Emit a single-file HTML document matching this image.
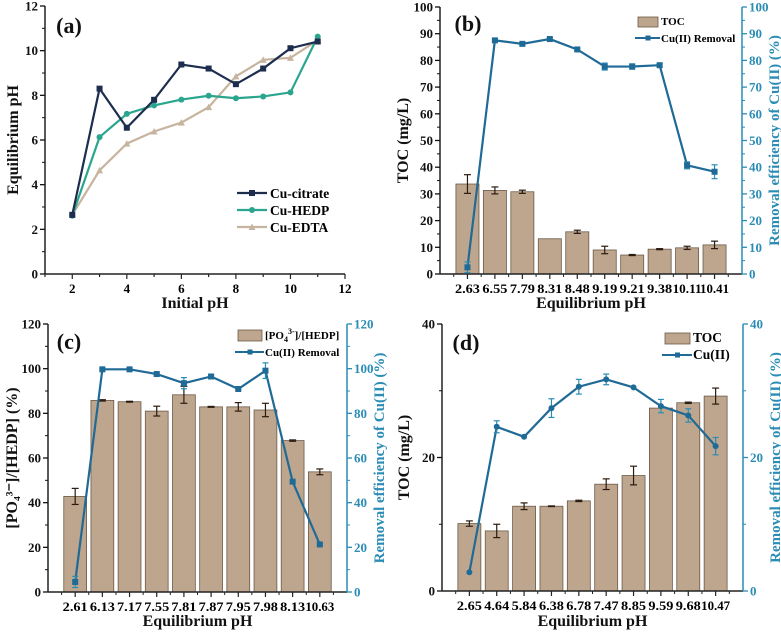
<!DOCTYPE html>
<html><head><meta charset="utf-8"><style>
body{margin:0;background:#fff}
svg text{font-family:"Liberation Serif",serif;font-weight:bold}
</style></head><body>
<svg id="c" width="781" height="634" xmlns="http://www.w3.org/2000/svg"></svg>
<script>
const aX=[2,3,4,5,6,7,8,9,10,11];
const aCitrate=[2.65,8.3,6.55,7.8,9.38,9.2,8.5,9.2,10.11,10.41];
const aHEDP=[2.61,6.13,7.17,7.55,7.81,7.98,7.87,7.95,8.13,10.63];
const aEDTA=[2.65,4.64,5.84,6.38,6.78,7.47,8.85,9.59,9.68,10.47];
const aXTicks=[2,4,6,8,10,12];
const aYTicks=[0,2,4,6,8,10,12];

const bCats=["2.63","6.55","7.79","8.31","8.48","9.19","9.21","9.38","10.11","10.41"];
const bTOC=[33.7,31.3,30.8,13.2,15.8,9.0,7.1,9.3,9.8,10.9];
const bTOCErr=[3.5,1.3,0.6,0,0.6,1.4,0.2,0.2,0.6,1.4];
const bRem=[2.5,87.5,86.2,88.0,84.1,77.7,77.7,78.2,40.7,38.3];
const bRemErr=[2,0.5,0.5,0.5,0.5,1.3,1,0.5,1.3,2.6];
const bTicks=[0,10,20,30,40,50,60,70,80,90,100];

const cCats=["2.61","6.13","7.17","7.55","7.81","7.87","7.95","7.98","8.13","10.63"];
const cBar=[42.8,85.8,85.2,81.0,88.3,82.9,82.9,81.5,67.8,53.8];
const cBarErr=[3.6,0.3,0.2,2.2,3.8,0.2,1.9,3.0,0.3,1.3];
const cRem=[4.5,99.7,99.7,97.6,93.5,96.5,90.9,99.1,49.4,21.3];
const cRemErr=[2.5,0.5,0.5,0.5,2.5,0.5,0.5,3.5,0.5,0.5];
const cTicks=[0,20,40,60,80,100,120];

const dCats=["2.65","4.64","5.84","6.38","6.78","7.47","8.85","9.59","9.68","10.47"];
const dBar=[10.1,9.0,12.7,12.7,13.5,16.0,17.3,27.4,28.2,29.2];
const dBarErr=[0.4,1.0,0.5,0.05,0.1,0.8,1.4,0,0.1,1.2];
const dRem=[2.8,24.6,23.1,27.4,30.6,31.7,30.5,27.7,26.3,21.7];
const dRemErr=[0,0.9,0,1.4,1.1,0.8,0,1.0,1.0,1.3];
const dTicks=[0,20,40];

const svg=document.getElementById('c');
const NS="http://www.w3.org/2000/svg";
function el(tag,attrs,parent,text){const e=document.createElementNS(NS,tag);for(const k in attrs)e.setAttribute(k,attrs[k]);if(text!==undefined)e.textContent=text;(parent||svg).appendChild(e);return e;}
const BLUE="#1f6a96", AXB="#2b8cb5", BAR="#bda68d";

function axesFrame(g,L,R,T,B,rightColor){
  let e=el('line',{x1:L,y1:T,x2:L,y2:B,stroke:'#222','stroke-width':1.5},g);
  
  e=el('line',{x1:L,y1:B,x2:R,y2:B,stroke:'#222','stroke-width':1.5},g);
  
  if(rightColor){e=el('line',{x1:R,y1:T,x2:R,y2:B,stroke:rightColor,'stroke-width':1.5},g);
  }
}
function yTicks(g,ticks,ys,x,dir,color,name){
  ticks.forEach((t,i)=>{const y=ys(t);
    el('line',{x1:x,y1:y,x2:x+dir*5,y2:y,stroke:color,'stroke-width':1.3},g);
    if(i<ticks.length-1){const ym=(y+ys(ticks[i+1]))/2;el('line',{x1:x,y1:ym,x2:x+dir*3,y2:ym,stroke:color,'stroke-width':1},g);}
    const tx=el('text',{x:x+dir*7,y:y+4.5,'font-size':13,'text-anchor':dir<0?'end':'start',fill:color},g,String(t));
    });
}
function label(g,x,y,txt,size,name,rot,color){
  const t=el('text',{x:x,y:y,'font-size':size,'text-anchor':'middle',fill:color||'#111'},g,txt);
  if(rot)t.setAttribute('transform',`rotate(-90 ${x} ${y})`);
  return t;
}
function errBar(g,x,y1,y2,color,w){
  if(Math.abs(y2-y1)<0.5)return;
  el('line',{x1:x,y1:y1,x2:x,y2:y2,stroke:color,'stroke-width':1.2},g);
  el('line',{x1:x-w,y1:y1,x2:x+w,y2:y1,stroke:color,'stroke-width':1.2},g);
  el('line',{x1:x-w,y1:y2,x2:x+w,y2:y2,stroke:color,'stroke-width':1.2},g);
}

// Panel a
(function(){
  const g=el('g',{});
  const L=45,R=345,T=6,B=274;
  const xs=v=>L+(v-1)/(12-1)*(R-L), ys=v=>B-v/12*(B-T);
  axesFrame(g,L,R,T,B,null);
  yTicks(g,aYTicks,ys,L,-1,'#111','y-tick-label');
  for(let v=1;v<=12;v++){const x=xs(v);const major=aXTicks.includes(v);
    el('line',{x1:x,y1:B,x2:x,y2:B+(major?5:3),stroke:'#222','stroke-width':1.2},g);
    if(major){const t=el('text',{x:x,y:B+19,'font-size':13,'text-anchor':'middle'},g,String(v));
      }}
  label(g,195,308,'Initial pH',16,'x-axis-title');
  label(g,18,140,'Equilibrium pH',16,'y-axis-title',true);
  label(g,69,33,'(a)',22,'panel-label');
  const series=[[aEDTA,'#c7b49f','tri','Cu-EDTA'],[aHEDP,'#2aa58e','circ','Cu-HEDP'],[aCitrate,'#1d2d4e','sq','Cu-citrate']];
  series.forEach(([d,c,m,n])=>{
    const p=el('polyline',{points:d.map((v,i)=>xs(aX[i])+','+ys(v)).join(' '),fill:'none',stroke:c,'stroke-width':2.2},g);
    
    d.forEach((v,i)=>{const x=xs(aX[i]),y=ys(v);let mk;
      if(m==='sq')mk=el('rect',{x:x-3,y:y-3,width:6,height:6,fill:c},g);
      else if(m==='circ')mk=el('circle',{cx:x,cy:y,r:3,fill:c},g);
      else mk=el('polygon',{points:`${x},${y-3.5} ${x-3.5},${y+3} ${x+3.5},${y+3}`,fill:c},g);
      });
  });
  const leg=[['Cu-citrate','#1d2d4e','sq'],['Cu-HEDP','#2aa58e','circ'],['Cu-EDTA','#c7b49f','tri']];
  leg.forEach(([n,c,m],i)=>{const y=193+i*17;
    const lg=el('g',{},g);
    el('line',{x1:237,y1:y,x2:267,y2:y,stroke:c,'stroke-width':2.2},lg);
    if(m==='sq')el('rect',{x:249,y:y-3,width:6,height:6,fill:c},lg);else if(m==='circ')el('circle',{cx:252,cy:y,r:3,fill:c},lg);else el('polygon',{points:`252,${y-3.5} 248.5,${y+3} 255.5,${y+3}`,fill:c},lg);
    el('text',{x:270,y:y+5,'font-size':13.5},lg,n);});
})();

function barPanel(cfg){
  const g=el('g',{});
  const {L,R,T,B}=cfg;const n=cfg.cats.length;const step=(R-L)/(n+1);
  const xs=i=>L+step*(i+1);
  const ys=v=>B-v/cfg.max*(B-T), yr=v=>B-v/cfg.rmax*(B-T);
  const bw=step*0.84;
  cfg.bars.forEach((v,i)=>{const r=el('rect',{x:xs(i)-bw/2,y:ys(v),width:bw,height:B-ys(v),fill:BAR,stroke:'#6b5a48','stroke-width':0.8},g);
    
    errBar(g,xs(i),ys(v+cfg.barErr[i]),ys(v-cfg.barErr[i]),'#2a1a10',3.5);});
  axesFrame(g,L,R,T,B,AXB);
  yTicks(g,cfg.ticks,ys,L,-1,'#111','y-tick-label');
  yTicks(g,cfg.rticks,yr,R,1,AXB,'right-y-tick-label');
  for(let i=-1;i<n;i++){const xm=xs(i)+step/2;el('line',{x1:xm,y1:B,x2:xm,y2:B+3,stroke:'#222','stroke-width':1},g);}
  cfg.cats.forEach((c,i)=>{el('line',{x1:xs(i),y1:B,x2:xs(i),y2:B+5,stroke:'#222','stroke-width':1.2},g);
    const t=el('text',{x:xs(i),y:B+19,'font-size':13,'text-anchor':'middle','textLength':c.length>4?29:25,'lengthAdjust':'spacingAndGlyphs'},g,c);
    });
  const p=el('polyline',{points:cfg.line.map((v,i)=>xs(i)+','+yr(v)).join(' '),fill:'none',stroke:BLUE,'stroke-width':2.2},g);
  
  cfg.line.forEach((v,i)=>{errBar(g,xs(i),yr(v+cfg.lineErr[i]),yr(v-cfg.lineErr[i]),AXB,3);
    const m=cfg.circ?el('circle',{cx:xs(i),cy:yr(v),r:3,fill:BLUE},g):el('rect',{x:xs(i)-3,y:yr(v)-3,width:6,height:6,fill:BLUE},g);
    });
  label(g,(L+R)/2,cfg.xty,'Equilibrium pH',16,'x-axis-title');
  label(g,cfg.ylx,(T+B)/2,cfg.ylab,16,'y-axis-title',true);
  label(g,R+37,(T+B)/2,'Removal efficiency of Cu(II) (%)',15,'right-y-axis-title',true,AXB);
  label(g,cfg.plx,cfg.ply,cfg.plab,22,'panel-label');
  const lg=el('g',{},g);
  const q=cfg.leg;
  el('rect',{x:q.x,y:q.y,width:q.w,height:q.h,fill:BAR,stroke:'#6b5a48','stroke-width':0.8},lg);
  const t1=el('text',{x:q.x+q.w+3,y:q.y+q.h-2,'font-size':q.fs},lg);
  if(cfg.po4){t1.textContent='[PO';el('tspan',{'font-size':8,dy:3},t1,'4');el('tspan',{'font-size':8,dy:-8},t1,'3-');el('tspan',{dy:5},t1,']/[HEDP]');}
  else t1.textContent=q.t1;
  const ly=q.y+q.h+11;
  el('line',{x1:q.x-3,y1:ly,x2:q.x+q.w+2,y2:ly,stroke:BLUE,'stroke-width':2},lg);
  el('rect',{x:q.x+q.w/2-2.5,y:ly-2.5,width:5,height:5,fill:BLUE},lg);
  el('text',{x:q.x+q.w+3,y:ly+4,'font-size':q.fs},lg,q.t2);
}

barPanel({name:'panel-b',L:440,R:742,T:7,B:274,cats:bCats,bars:bTOC,barErr:bTOCErr,line:bRem,lineErr:bRemErr,max:100,rmax:100,ticks:bTicks,rticks:bTicks,
  xty:308,ylx:408,ylab:'TOC (mg/L)',plx:468,ply:31,plab:'(b)',leg:{x:638,y:17,w:20,h:10,fs:11,t1:'TOC',t2:'Cu(II) Removal'}});
barPanel({name:'panel-c',L:48,R:347,T:324,B:592,cats:cCats,bars:cBar,barErr:cBarErr,line:cRem,lineErr:cRemErr,max:120,rmax:120,ticks:cTicks,rticks:cTicks,
  xty:626,ylx:17,ylab:'[PO\u2084\u00b3\u207b]/[HEDP] (%)',plx:69,ply:349,plab:'(c)',po4:true,leg:{x:238,y:330,w:24,h:11,fs:11,t1:'',t2:'Cu(II) Removal'}});
barPanel({name:'panel-d',L:442,R:743,T:324,B:591,cats:dCats,bars:dBar,barErr:dBarErr,line:dRem,lineErr:dRemErr,max:40,rmax:40,ticks:dTicks,rticks:dTicks,circ:true,
  xty:626,ylx:409,ylab:'TOC (mg/L)',plx:466,ply:350,plab:'(d)',leg:{x:665,y:333,w:25,h:11,fs:13.5,t1:'TOC',t2:'Cu(II)'}});
</script>
</body></html>
